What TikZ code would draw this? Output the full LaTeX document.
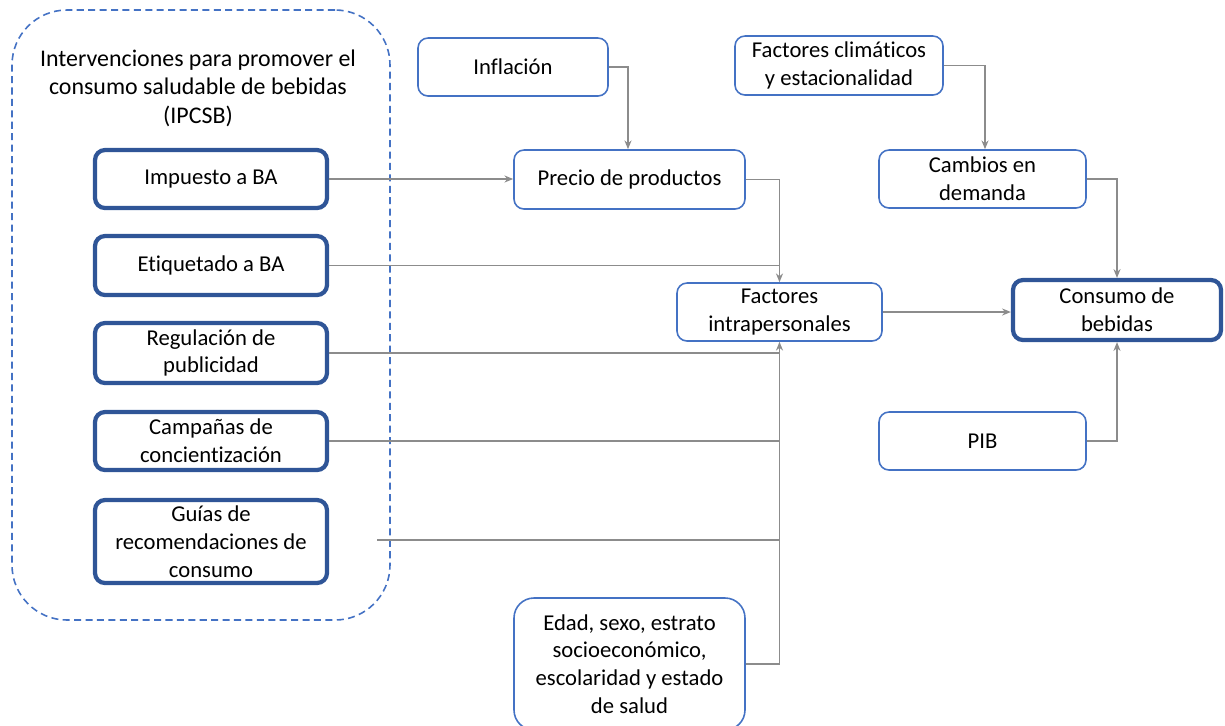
\documentclass[tikz,border=0pt]{standalone}
\usepackage{fontspec}
\setmainfont{Carlito}[Ligatures={NoCommon}]
\usetikzlibrary{arrows.meta}
\definecolor{thickblue}{HTML}{2F5597}
\definecolor{thinblue}{HTML}{4472C4}
\definecolor{conn}{HTML}{8C8C8C}
\begin{document}
\begin{tikzpicture}[x=0.02cm,y=-0.02cm,
  font=\fontsize{12.9pt}{15.8pt}\selectfont,
  sz/.style 2 args={minimum width=#1*0.02cm, minimum height=#2*0.02cm, inner sep=0pt},
  thinbox/.style={draw=thinblue, line width=0.9pt, rounded corners=0.2cm, align=center, fill=white},
  thickbox/.style={draw=thickblue, line width=2.4pt, rounded corners=0.2cm, align=center, fill=white},
  link/.style={draw=conn, line width=0.9pt},
  arr/.style={link, -{Stealth[length=5pt,width=4pt]}}
]
\useasboundingbox (0,0) rectangle (1225,725);
\clip (0,0) rectangle (1225,725);
% container
\node[draw=thinblue, dash pattern=on 4pt off 2.5pt, line width=0.9pt, rounded corners=1.1cm, sz={378}{610}] (cont) at (201,315) {};
\node[align=center, font=\fontsize{13.6pt}{16.3pt}\selectfont] (title) at (198,88) {Intervenciones para promover el\\consumo saludable de bebidas\\(IPCSB)};
% left boxes
\node[thickbox, sz={232}{58}] (imp) at (211,179) {Impuesto a BA};
\node[thickbox, sz={232}{59}] (eti) at (211,265.5) {Etiquetado a BA};
\node[thickbox, sz={232}{60}] (reg) at (211,353) {Regulación de\\publicidad};
\node[thickbox, sz={232}{58}] (cam) at (211,441) {Campañas de\\concientización};
\node[thickbox, sz={232}{83}] (gui) at (211,541.5) {Guías de\\recomendaciones de\\consumo};
% middle/right boxes
\node[thinbox, sz={190}{58}] (inf) at (513,67) {Inflación};
\node[thinbox, sz={231}{59}] (pre) at (629.5,179.5) {Precio de productos};
\node[thinbox, sz={208}{59}] (cli) at (839,65.5) {Factores climáticos\\y estacionalidad};
\node[thinbox, sz={207}{58}] (cdm) at (982.5,179) {Cambios en\\demanda};
\node[thinbox, sz={205}{58}] (fin) at (779.5,312) {Factores\\intrapersonales};
\node[thickbox, sz={208}{60}] (con) at (1117,310) {Consumo de\\bebidas};
\node[thinbox, sz={207}{58}] (pib) at (982.5,441) {PIB};
\node[thinbox, rounded corners=0.4cm, sz={231}{132}] (eda) at (629.5,664) {Edad, sexo, estrato\\socioeconómico,\\escolaridad y estado\\de salud};
% connectors
\coordinate (guiend) at (377,540);
\draw[arr] (inf.east) -| (pre.north -| 628,0);
\draw[arr] (imp.east) -- (pre.west |- imp.east);
\draw[arr] (pre.east) -| (fin.north);
\draw[link] (eti.east) -- (eti.east -| fin.north);
\draw[link] (reg.east) -- (reg.east -| fin.south);
\draw[link] (cam.east) -- (cam.east -| fin.south);
\draw[link] (guiend) -- (guiend -| fin.south);
\draw[arr] (eda.east) -| (fin.south);
\draw[arr] (fin.east) -- (con.west |- fin.east);
\draw[arr] (cli.east) -| (cdm.north -| 985,0);
\draw[arr] (cdm.east) -| (con.north);
\draw[arr] (pib.east) -| (con.south);
\end{tikzpicture}
\end{document}
